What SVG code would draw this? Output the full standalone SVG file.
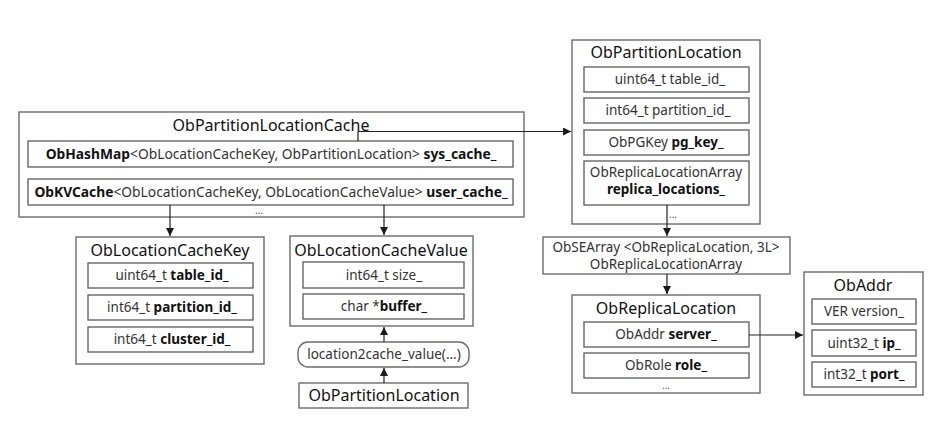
<svg xmlns="http://www.w3.org/2000/svg" width="951" height="443" viewBox="0 0 951 443">
<defs>
<marker id="ah" viewBox="0 0 10 10" refX="10" refY="5" markerWidth="8" markerHeight="8" markerUnits="userSpaceOnUse" orient="auto">
<path d="M0,0 L10,5 L0,10 z" fill="#1a1a1a"/>
</marker>
<style>
text{font-family:"Noto Sans","Open Sans",sans-serif;fill:#222}
.t{font-size:16px;text-anchor:middle;fill:#111}
.r{font-size:13.5px;text-anchor:middle;fill:#333}
.b{font-weight:bold;fill:#111}
.dots{font-size:10px;text-anchor:middle;fill:#555}
.o{fill:#fff;stroke:#6b6b6b;stroke-width:1.4}
.i{fill:#fff;stroke:#5a5a5a;stroke-width:1.3}
.c{fill:none;stroke:#222;stroke-width:1.2;marker-end:url(#ah)}
</style>
</defs>
<rect width="951" height="443" fill="#fff"/>

<g id="cache">
<rect class="o" x="19" y="112" width="505" height="105"/>
<text class="t" x="271" y="131">ObPartitionLocationCache</text>
<rect class="i" x="28" y="141" width="485" height="26"/>
<text class="r" x="271" y="159" style="font-size:13.8px"><tspan class="b">ObHashMap</tspan>&lt;ObLocationCacheKey, ObPartitionLocation&gt; <tspan class="b">sys_cache_</tspan></text>
<rect class="i" x="28" y="179" width="485" height="26"/>
<text class="r" x="271" y="197" style="font-size:13.8px"><tspan class="b">ObKVCache</tspan>&lt;ObLocationCacheKey, ObLocationCacheValue&gt; <tspan class="b">user_cache_</tspan></text>
<text class="dots" x="259" y="214">...</text>
</g>

<g id="key">
<rect class="o" x="76" y="237" width="188" height="127"/>
<text class="t" x="170" y="256">ObLocationCacheKey</text>
<rect class="i" x="88" y="263" width="165" height="25"/>
<text class="r" x="172" y="280">uint64_t <tspan class="b">table_id_</tspan></text>
<rect class="i" x="88" y="295" width="165" height="25"/>
<text class="r" x="172" y="312">int64_t <tspan class="b">partition_id_</tspan></text>
<rect class="i" x="88" y="327" width="165" height="25"/>
<text class="r" x="172" y="344">int64_t <tspan class="b">cluster_id_</tspan></text>
</g>

<g id="value">
<rect class="o" x="290" y="236" width="183" height="90"/>
<text class="t" x="381" y="256">ObLocationCacheValue</text>
<rect class="i" x="303" y="262" width="161" height="26"/>
<text class="r" x="384" y="280">int64_t size_</text>
<rect class="i" x="303" y="294" width="161" height="25"/>
<text class="r" x="384" y="311">char *<tspan class="b">buffer_</tspan></text>
</g>

<g id="conv">
<rect class="o" x="298" y="342" width="171" height="25" rx="10" ry="10"/>
<text class="r" x="384" y="359">location2cache_value(...)</text>
</g>

<g id="ploc2">
<rect class="o" x="299" y="383" width="169" height="25"/>
<text class="t" x="384" y="401">ObPartitionLocation</text>
</g>

<g id="ploc">
<rect class="o" x="572" y="40" width="188" height="184"/>
<text class="t" x="666" y="58">ObPartitionLocation</text>
<rect class="i" x="584" y="67" width="165" height="25"/>
<text class="r" x="670" y="84">uint64_t table_id_</text>
<rect class="i" x="584" y="98" width="165" height="25"/>
<text class="r" x="668" y="115">int64_t partition_id_</text>
<rect class="i" x="584" y="130" width="165" height="25"/>
<text class="r" x="666" y="147">ObPGKey <tspan class="b">pg_key_</tspan></text>
<rect class="i" x="584" y="161" width="165" height="44"/>
<text class="r" x="666" y="177">ObReplicaLocationArray</text>
<text class="r b" x="666" y="194">replica_locations_</text>
<text class="dots" x="673" y="218">...</text>
</g>

<g id="searray">
<rect class="o" x="543" y="237" width="247" height="37"/>
<text class="r" x="666" y="252">ObSEArray &lt;ObReplicaLocation, 3L&gt;</text>
<text class="r" x="666" y="269">ObReplicaLocationArray</text>
</g>

<g id="rloc">
<rect class="o" x="572" y="295" width="188" height="98"/>
<text class="t" x="666" y="314">ObReplicaLocation</text>
<rect class="i" x="584" y="322" width="165" height="25"/>
<text class="r" x="666" y="339">ObAddr <tspan class="b">server_</tspan></text>
<rect class="i" x="584" y="353" width="165" height="25"/>
<text class="r" x="666" y="370">ObRole <tspan class="b">role_</tspan></text>
<text class="dots" x="666" y="389">...</text>
</g>

<g id="addr">
<rect class="o" x="804" y="272" width="119" height="123"/>
<text class="t" x="863" y="291">ObAddr</text>
<rect class="i" x="812" y="299" width="104" height="25"/>
<text class="r" x="864" y="316">VER version_</text>
<rect class="i" x="812" y="330" width="104" height="26"/>
<text class="r" x="864" y="348">uint32_t <tspan class="b">ip_</tspan></text>
<rect class="i" x="812" y="362" width="104" height="25"/>
<text class="r" x="864" y="379">int32_t <tspan class="b">port_</tspan></text>
</g>

<g id="connectors">
<path class="c" d="M358,141 V131.5 H571"/>
<path class="c" d="M170,205 V236"/>
<path class="c" d="M384,205 V235"/>
<path class="c" d="M384,342 V327"/>
<path class="c" d="M384,383 V368"/>
<path class="c" d="M667,205 V236"/>
<path class="c" d="M667,274 V294"/>
<path class="c" d="M749,335 H803"/>
</g>
</svg>
